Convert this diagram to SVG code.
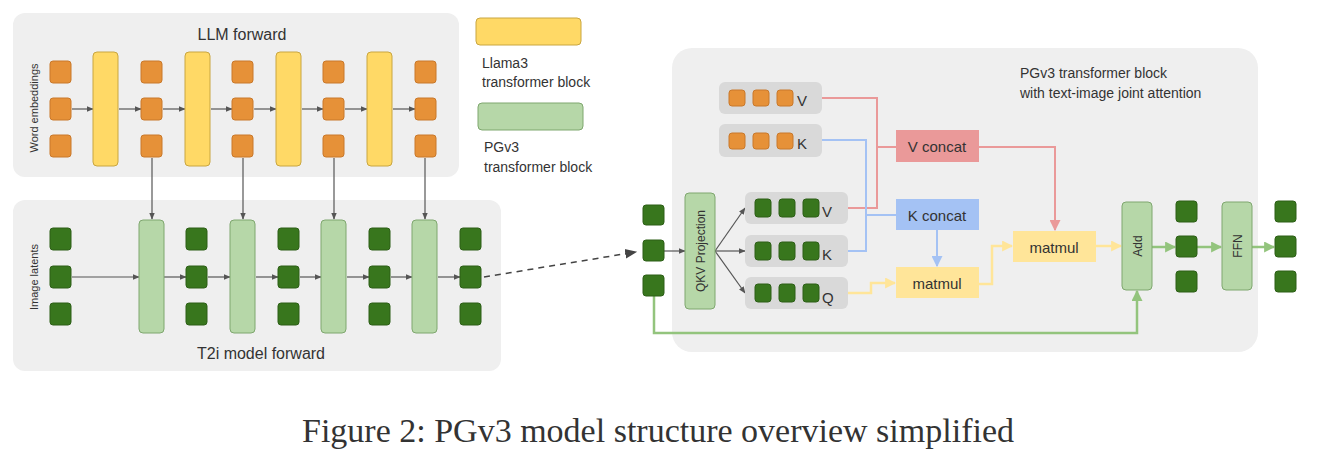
<svg xmlns="http://www.w3.org/2000/svg" width="1320" height="454" viewBox="0 0 1320 454">
<style>
text{font-family:"Liberation Sans",Arial,sans-serif;fill:#333}
.pn{fill:#efefef}
.o{fill:#e69138;stroke:#c9782a;stroke-width:1}
.g{fill:#38761d;stroke:#2d5f17;stroke-width:1}
.y{fill:#ffd966;stroke:#c9a640;stroke-width:1}
.lg{fill:#b6d7a8;stroke:#7fa76f;stroke-width:1}
.grp{fill:#d9d9d9}
.ar{stroke:#555;stroke-width:1.2;fill:none;marker-end:url(#ma)}
.red{stroke:#ea9999;stroke-width:2;fill:none}
.blu{stroke:#a4c2f4;stroke-width:2;fill:none}
.yel{stroke:#ffe599;stroke-width:2.5;fill:none;marker-end:url(#my)}
.grn{stroke:#93c47d;stroke-width:2.5;fill:none;marker-end:url(#mg)}
</style>
<defs>
<marker id="ma" viewBox="0 0 10 10" refX="9" refY="5" markerWidth="7" markerHeight="7" orient="auto" markerUnits="userSpaceOnUse"><path d="M0,1L10,5L0,9z" fill="#555"/></marker>
<marker id="mr" viewBox="0 0 10 10" refX="9" refY="5" markerWidth="11" markerHeight="11" orient="auto" markerUnits="userSpaceOnUse"><path d="M0,0L10,5L0,10z" fill="#ea9999"/></marker>
<marker id="mb" viewBox="0 0 10 10" refX="9" refY="5" markerWidth="11" markerHeight="11" orient="auto" markerUnits="userSpaceOnUse"><path d="M0,0L10,5L0,10z" fill="#a4c2f4"/></marker>
<marker id="my" viewBox="0 0 10 10" refX="9" refY="5" markerWidth="11" markerHeight="11" orient="auto" markerUnits="userSpaceOnUse"><path d="M0,0L10,5L0,10z" fill="#ffe599"/></marker>
<marker id="mg" viewBox="0 0 10 10" refX="9" refY="5" markerWidth="11" markerHeight="11" orient="auto" markerUnits="userSpaceOnUse"><path d="M0,0L10,5L0,10z" fill="#93c47d"/></marker>
<marker id="md" viewBox="0 0 10 10" refX="9" refY="5" markerWidth="12" markerHeight="12" orient="auto" markerUnits="userSpaceOnUse"><path d="M0,1L10,5L0,9z" fill="#444"/></marker>
</defs>
<rect width="1320" height="454" fill="#fff"/>

<g id="llm-panel">
<rect class="pn" x="13" y="13" width="446" height="164" rx="12"/>
<text x="242" y="40" font-size="16" text-anchor="middle">LLM forward</text>
<text transform="translate(38,108) rotate(-90)" font-size="11" text-anchor="middle" fill="#666">Word embeddings</text>
</g>
<g id="t2i-panel">
<rect class="pn" x="13" y="200" width="488" height="171" rx="12"/>
<text x="261" y="359" font-size="16" text-anchor="middle">T2i model forward</text>
<text transform="translate(38,277) rotate(-90)" font-size="11" text-anchor="middle" fill="#666">Image latents</text>
</g>
<g id="pgv3-panel">
<rect class="pn" x="672" y="48" width="586" height="304" rx="20"/>
<text x="1020" y="78" font-size="14">PGv3 transformer block</text>
<text x="1020" y="98" font-size="14">with text-image joint attention</text>
</g>
<g id="legend">
<rect class="y" x="476" y="18" width="105" height="27" rx="4"/>
<text x="482" y="68" font-size="14">Llama3</text>
<text x="482" y="87" font-size="14">transformer block</text>
<rect class="lg" x="478" y="103" width="105" height="27" rx="4"/>
<text x="484" y="152" font-size="14">PGv3</text>
<text x="484" y="172" font-size="14">transformer block</text>
</g>

<g id="connectors">
<path class="ar" d="M72,109H93"/><path class="ar" d="M119,109H141"/><path class="ar" d="M163,109H185"/><path class="ar" d="M211,109H232"/><path class="ar" d="M254,109H276"/><path class="ar" d="M302,109H323"/><path class="ar" d="M345,109H367"/><path class="ar" d="M393,109H415"/>
<path class="ar" d="M152,158V219"/><path class="ar" d="M243,158V219"/><path class="ar" d="M334,158V219"/><path class="ar" d="M425,158V219"/>
<path class="ar" d="M72,277H139"/><path class="ar" d="M164,277H186"/><path class="ar" d="M208,277H230"/><path class="ar" d="M256,277H278"/><path class="ar" d="M300,277H321"/><path class="ar" d="M347,277H369"/><path class="ar" d="M391,277H412"/><path class="ar" d="M438,277H460"/>
<path d="M484,277L636,252" stroke="#444" stroke-width="1.5" stroke-dasharray="6,5" fill="none" marker-end="url(#md)"/>
<path class="ar" d="M664,251H685"/>
<path class="ar" d="M715,251L745,208"/><path class="ar" d="M715,251H745"/><path class="ar" d="M715,251L745,293"/>
<path class="red" d="M822,98H877V208H848M877,147H896"/>
<path class="blu" d="M822,140H866V251H848M866,215H896"/>
<path class="blu" marker-end="url(#mb)" d="M937,230V266"/>
<path class="yel" d="M848,293H871V283H895"/>
<path class="yel" d="M979,284H992V246H1012"/>
<path class="red" marker-end="url(#mr)" d="M979,147H1055V230"/>
<path class="yel" d="M1096,246H1121"/>
<path class="grn" d="M1152,247H1175"/><path class="grn" d="M1197,247H1221"/><path class="grn" d="M1252,247H1274"/>
<path class="grn" d="M654,296V333H1137V291"/>
</g>

<g id="llm-tokens">
<rect class="o" x="50" y="61" width="21" height="22" rx="3"/><rect class="o" x="50" y="98" width="21" height="22" rx="3"/><rect class="o" x="50" y="135" width="21" height="22" rx="3"/>
<rect class="o" x="141" y="61" width="21" height="22" rx="3"/><rect class="o" x="141" y="98" width="21" height="22" rx="3"/><rect class="o" x="141" y="135" width="21" height="22" rx="3"/>
<rect class="o" x="232" y="61" width="21" height="22" rx="3"/><rect class="o" x="232" y="98" width="21" height="22" rx="3"/><rect class="o" x="232" y="135" width="21" height="22" rx="3"/>
<rect class="o" x="323" y="61" width="21" height="22" rx="3"/><rect class="o" x="323" y="98" width="21" height="22" rx="3"/><rect class="o" x="323" y="135" width="21" height="22" rx="3"/>
<rect class="o" x="415" y="61" width="21" height="22" rx="3"/><rect class="o" x="415" y="98" width="21" height="22" rx="3"/><rect class="o" x="415" y="135" width="21" height="22" rx="3"/>
</g>
<g id="llama-blocks">
<rect class="y" x="93" y="52" width="25" height="114" rx="4"/><rect class="y" x="185" y="52" width="25" height="114" rx="4"/><rect class="y" x="276" y="52" width="25" height="114" rx="4"/><rect class="y" x="367" y="52" width="25" height="114" rx="4"/>
</g>
<g id="t2i-tokens">
<rect class="g" x="50" y="228" width="21" height="22" rx="3"/><rect class="g" x="50" y="266" width="21" height="22" rx="3"/><rect class="g" x="50" y="303" width="21" height="22" rx="3"/>
<rect class="g" x="186" y="228" width="21" height="22" rx="3"/><rect class="g" x="186" y="266" width="21" height="22" rx="3"/><rect class="g" x="186" y="303" width="21" height="22" rx="3"/>
<rect class="g" x="278" y="228" width="21" height="22" rx="3"/><rect class="g" x="278" y="266" width="21" height="22" rx="3"/><rect class="g" x="278" y="303" width="21" height="22" rx="3"/>
<rect class="g" x="369" y="228" width="21" height="22" rx="3"/><rect class="g" x="369" y="266" width="21" height="22" rx="3"/><rect class="g" x="369" y="303" width="21" height="22" rx="3"/>
<rect class="g" x="460" y="228" width="21" height="22" rx="3"/><rect class="g" x="460" y="266" width="21" height="22" rx="3"/><rect class="g" x="460" y="303" width="21" height="22" rx="3"/>
</g>
<g id="pgv3-blocks">
<rect class="lg" x="139" y="220" width="25" height="113" rx="4"/><rect class="lg" x="230" y="220" width="25" height="113" rx="4"/><rect class="lg" x="321" y="220" width="25" height="113" rx="4"/><rect class="lg" x="412" y="220" width="25" height="113" rx="4"/>
</g>

<g id="input-tokens">
<rect class="g" x="643" y="205" width="21" height="20" rx="3"/><rect class="g" x="643" y="240" width="21" height="21" rx="3"/><rect class="g" x="643" y="275" width="21" height="21" rx="3"/>
</g>
<g id="qkv-projection">
<rect class="lg" x="685" y="193" width="30" height="116" rx="4"/>
<text transform="translate(705,251) rotate(-90)" font-size="12" text-anchor="middle" fill="#222">QKV Projection</text>
</g>
<g id="text-v">
<rect class="grp" x="719" y="82" width="103" height="32" rx="6"/>
<rect class="o" x="729" y="90" width="16" height="16" rx="3"/><rect class="o" x="753" y="90" width="16" height="16" rx="3"/><rect class="o" x="777" y="90" width="16" height="16" rx="3"/>
<text x="797" y="106" font-size="15">V</text>
</g>
<g id="text-k">
<rect class="grp" x="719" y="124" width="103" height="33" rx="6"/>
<rect class="o" x="729" y="133" width="16" height="16" rx="3"/><rect class="o" x="753" y="133" width="16" height="16" rx="3"/><rect class="o" x="777" y="133" width="16" height="16" rx="3"/>
<text x="797" y="149" font-size="15">K</text>
</g>
<g id="image-v">
<rect class="grp" x="745" y="192" width="103" height="32" rx="6"/>
<rect class="g" x="755" y="199" width="16" height="18" rx="3"/><rect class="g" x="779" y="199" width="16" height="18" rx="3"/><rect class="g" x="803" y="199" width="16" height="18" rx="3"/>
<text x="822" y="217" font-size="15">V</text>
</g>
<g id="image-k">
<rect class="grp" x="745" y="235" width="103" height="32" rx="6"/>
<rect class="g" x="755" y="242" width="16" height="18" rx="3"/><rect class="g" x="779" y="242" width="16" height="18" rx="3"/><rect class="g" x="803" y="242" width="16" height="18" rx="3"/>
<text x="822" y="260" font-size="15">K</text>
</g>
<g id="image-q">
<rect class="grp" x="745" y="277" width="103" height="32" rx="6"/>
<rect class="g" x="755" y="284" width="16" height="18" rx="3"/><rect class="g" x="779" y="284" width="16" height="18" rx="3"/><rect class="g" x="803" y="284" width="16" height="18" rx="3"/>
<text x="822" y="303" font-size="15">Q</text>
</g>
<g id="v-concat">
<rect x="896" y="130" width="83" height="32" fill="#ea9999"/>
<text x="937" y="152" font-size="15" text-anchor="middle" fill="#111">V concat</text>
</g>
<g id="k-concat">
<rect x="896" y="199" width="83" height="31" fill="#a4c2f4"/>
<text x="937" y="221" font-size="15" text-anchor="middle" fill="#111">K concat</text>
</g>
<g id="matmul-1">
<rect x="896" y="267" width="83" height="31" fill="#ffe599"/>
<text x="937" y="289" font-size="15" text-anchor="middle" fill="#111">matmul</text>
</g>
<g id="matmul-2">
<rect x="1013" y="231" width="83" height="31" fill="#ffe599"/>
<text x="1054" y="253" font-size="15" text-anchor="middle" fill="#111">matmul</text>
</g>
<g id="add">
<rect class="lg" x="1122" y="202" width="30" height="88" rx="4"/>
<text transform="translate(1142,246) rotate(-90)" font-size="12" text-anchor="middle" fill="#222">Add</text>
</g>
<g id="mid-tokens">
<rect class="g" x="1176" y="201" width="21" height="21" rx="3"/><rect class="g" x="1176" y="236" width="21" height="21" rx="3"/><rect class="g" x="1176" y="271" width="21" height="21" rx="3"/>
</g>
<g id="ffn">
<rect class="lg" x="1222" y="202" width="30" height="88" rx="4"/>
<text transform="translate(1242,246) rotate(-90)" font-size="12" text-anchor="middle" fill="#222">FFN</text>
</g>
<g id="output-tokens">
<rect class="g" x="1275" y="201" width="21" height="21" rx="3"/><rect class="g" x="1275" y="236" width="21" height="21" rx="3"/><rect class="g" x="1275" y="271" width="21" height="21" rx="3"/>
</g>
<text x="658" y="442" font-size="34" text-anchor="middle" style="font-family:'Liberation Serif','Times New Roman',serif" fill="#111">Figure 2: PGv3 model structure overview simplified</text>
</svg>
